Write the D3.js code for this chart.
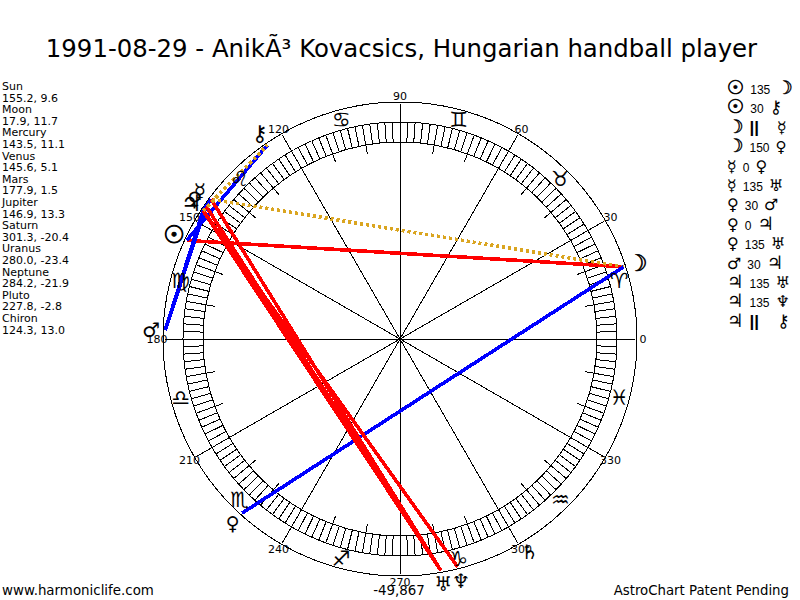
<!DOCTYPE html>
<html>
<head>
<meta charset="utf-8">
<script src="https://cdn.jsdelivr.net/npm/d3@7"></script>
<style>
  html, body { margin: 0; padding: 0; background: #fff; }
  text { font-family: "DejaVu Sans", sans-serif; fill: #000; }
  line, circle { shape-rendering: crispEdges; }
</style>
</head>
<body>
<div id="chart"></div>
<script>
// chart text
var title = "1991-08-29 - Anik\u00C3\u00B3 Kovacsics, Hungarian handball player";
var siteLabel = "www.harmoniclife.com";
var scoreLabel = "-49,867";
var patentLabel = "AstroChart Patent Pending";

// planets: longitude and declination
var planetNames = ["Sun", "Moon", "Mercury", "Venus", "Mars", "Jupiter", "Saturn", "Uranus", "Neptune", "Pluto", "Chiron"];
var planetLon = [155.2, 17.9, 143.5, 145.6, 177.9, 146.9, 301.3, 280.0, 284.2, 227.8, 124.3];
var planetDec = [9.6, 11.7, 11.1, 5.1, 1.5, 13.3, -20.4, -23.4, -21.9, -2.8, 13.0];
// the pluto glyph of the original looks like a venus sign
var planetGlyphs = ["\u2609", "\u263D", "\u263F", "\u2640", "\u2642", "\u2643", "\u2644", "\u2645", "\u2646", "\u2640", "\u26B7"];

// zodiac, one glyph per 30 degrees, starting at 0
var signGlyphs = ["\u2648", "\u2649", "\u264A", "\u264B", "\u264C", "\u264D", "\u264E", "\u264F", "\u2650", "\u2651", "\u2652", "\u2653"];

// aspects, as listed on the right. "||" is a parallel of declination
var aspectFrom = ["Sun", "Sun", "Moon", "Moon", "Mercury", "Mercury", "Venus", "Venus", "Venus", "Mars", "Jupiter", "Jupiter", "Jupiter"];
var aspectKind = ["135", "30", "||", "150", "0", "135", "30", "0", "135", "30", "135", "135", "||"];
var aspectTo = ["Moon", "Chiron", "Mercury", "Pluto", "Venus", "Uranus", "Mars", "Jupiter", "Uranus", "Jupiter", "Uranus", "Neptune", "Chiron"];

var axisDegrees = [0, 30, 60, 90, 120, 150, 180, 210, 240, 270, 300, 330];

var width = 800, height = 600;
var cx = 400, cy = 339;
var outerR = 237, ringOuter = 217, ringInner = 197;

// the glyphs of the original font are not all the same size
var glyphScale = {Sun: 1.2, Moon: 1.15, Jupiter: 1.15, Chiron: 1.1, Pluto: 0.95};
var glyphHeavy = {Sun: 0.8, Moon: 0.6};

var svg = d3.select("#chart")
  .append("svg")
  .attr("width", width)
  .attr("height", height)
  .style("display", "block");

var chart = svg.append("g").attr("transform", "translate(" + cx + "," + cy + ")");

// degrees run counter clockwise from 3 o'clock, pointRadial wants clockwise from 12
var angle = d3.scaleLinear().domain([0, 360]).range([Math.PI / 2, Math.PI / 2 - 2 * Math.PI]);
function polar(deg, r) { return d3.pointRadial(angle(deg), r); }

function radial(sel, degs, r0, r1) {
  return sel.selectAll(null)
    .data(degs)
    .enter()
    .append("line")
    .attr("x1", function(d) { return polar(d, r0)[0]; })
    .attr("y1", function(d) { return polar(d, r0)[1]; })
    .attr("x2", function(d) { return polar(d, r1)[0]; })
    .attr("y2", function(d) { return polar(d, r1)[1]; })
    .attr("stroke", "#000")
    .attr("stroke-width", 1);
}

// rings
chart.selectAll(".ring")
  .data([outerR, ringOuter, ringInner])
  .enter()
  .append("circle")
  .attr("r", function(d) { return d; })
  .attr("fill", "none")
  .attr("stroke", "#000")
  .attr("stroke-width", 1);

// one cell every 2 degrees
radial(chart, d3.range(0, 360, 2), ringInner, ringOuter);
// short ticks every 10 degrees
radial(chart, d3.range(0, 360, 10).filter(function(d) { return d % 30 != 0; }), 188, ringOuter);
// spokes
radial(chart, axisDegrees, 0, 235);

// degree labels
chart.selectAll(".deg")
  .data(axisDegrees)
  .enter()
  .append("text")
  .attr("x", function(d) { return polar(d, 243)[0]; })
  .attr("y", function(d) { return polar(d, 243)[1]; })
  .attr("text-anchor", "middle")
  .attr("dy", "0.36em")
  .style("font-size", "11px")
  .text(function(d) { return d; });

// aspect lines
function lonOf(name) { return planetLon[planetNames.indexOf(name)]; }
function aspectColor(kind) {
  if (kind == "||") return "#daa520";
  if (kind == "135") return "#ff0000";
  return "#0000ff";
}
var aspects = d3.range(aspectKind.length).map(function(i) {
  return {from: aspectFrom[i], to: aspectTo[i], kind: aspectKind[i]};
});
chart.selectAll(".aspect")
  .data(aspects)
  .enter()
  .append("line")
  .attr("x1", function(d) { return polar(lonOf(d.from), 235)[0]; })
  .attr("y1", function(d) { return polar(lonOf(d.from), 235)[1]; })
  .attr("x2", function(d) { return polar(lonOf(d.to), 235)[0]; })
  .attr("y2", function(d) { return polar(lonOf(d.to), 235)[1]; })
  .attr("stroke", function(d) { return aspectColor(d.kind); })
  .attr("stroke-width", 3.6)
  .attr("stroke-dasharray", function(d) { return d.kind == "||" ? "3,3" : null; });

// zodiac signs in the outer band
chart.selectAll(".sign")
  .data(signGlyphs)
  .enter()
  .append("text")
  .attr("x", function(d, i) { return polar(i * 30 + 15, 227)[0]; })
  .attr("y", function(d, i) { return polar(i * 30 + 15, 227)[1]; })
  .attr("text-anchor", "middle")
  .attr("dy", "0.36em")
  .style("font-size", "21px")
  .text(function(d) { return d + "\uFE0E"; });

// planet glyphs just outside the wheel
function glyphSize(name, base) { return (base * (glyphScale[name] || 1)) + "px"; }
function heavy(name, k) { return (glyphHeavy[name] || 0) * k; }

chart.selectAll(".planet")
  .data(planetGlyphs)
  .enter()
  .append("text")
  .attr("x", function(d, i) { return polar(planetLon[i], 249)[0]; })
  .attr("y", function(d, i) { return polar(planetLon[i], 249)[1]; })
  .attr("text-anchor", "middle")
  .attr("dy", "0.36em")
  .attr("stroke", "#000")
  .attr("stroke-width", function(d, i) { return heavy(planetNames[i], 1); })
  .style("font-size", function(d, i) { return glyphSize(planetNames[i], 20); })
  .text(function(d) { return d + "\uFE0E"; });

// title and footer
svg.append("text")
  .attr("x", 401.5)
  .attr("y", 57)
  .attr("text-anchor", "middle")
  .style("font-size", "24.4px")
  .text(title);

svg.append("text").attr("x", 2).attr("y", 595).style("font-size", "13.4px").text(siteLabel);
svg.append("text").attr("x", 399).attr("y", 595).attr("text-anchor", "middle").style("font-size", "13.4px").text(scoreLabel);
svg.append("text").attr("x", 789).attr("y", 595).attr("text-anchor", "end").style("font-size", "13.3px").text(patentLabel);

// left panel: name and values on alternating lines
var panelLines = [];
planetNames.forEach(function(name, i) {
  panelLines.push(name);
  panelLines.push(planetLon[i].toFixed(1) + ", " + planetDec[i].toFixed(1));
});
svg.selectAll(".panel")
  .data(panelLines)
  .enter()
  .append("text")
  .attr("x", 2)
  .attr("y", function(d, i) { return 90 + i * 11.6; })
  .style("font-size", "11px")
  .text(function(d) { return d; });

// right panel: aspect list
function glyphOf(name) { return planetGlyphs[planetNames.indexOf(name)] + "\uFE0E"; }
var rows = svg.selectAll(".row")
  .data(aspects)
  .enter()
  .append("text")
  .attr("x", 727)
  .attr("y", function(d, i) { return 94 + i * 19.4; });
rows.append("tspan")
  .attr("stroke", "#000")
  .attr("stroke-width", function(d) { return heavy(d.from, 0.7); })
  .style("font-size", function(d) { return glyphSize(d.from, 16); })
  .text(function(d) { return glyphOf(d.from); });
rows.append("tspan")
  .attr("dx", 6)
  .style("font-family", "'Liberation Sans', sans-serif")
  .style("font-size", function(d) { return d.kind == "||" ? "17px" : "12px"; })
  .style("font-weight", function(d) { return d.kind == "||" ? "bold" : "normal"; })
  .text(function(d) { return d.kind; });
rows.append("tspan")
  .attr("dx", function(d) { return d.kind == "||" ? 18 : 6; })
  .attr("stroke", "#000")
  .attr("stroke-width", function(d) { return heavy(d.to, 0.7); })
  .style("font-size", function(d) { return glyphSize(d.to, 16); })
  .text(function(d) { return glyphOf(d.to); });
</script>
</body>
</html>
